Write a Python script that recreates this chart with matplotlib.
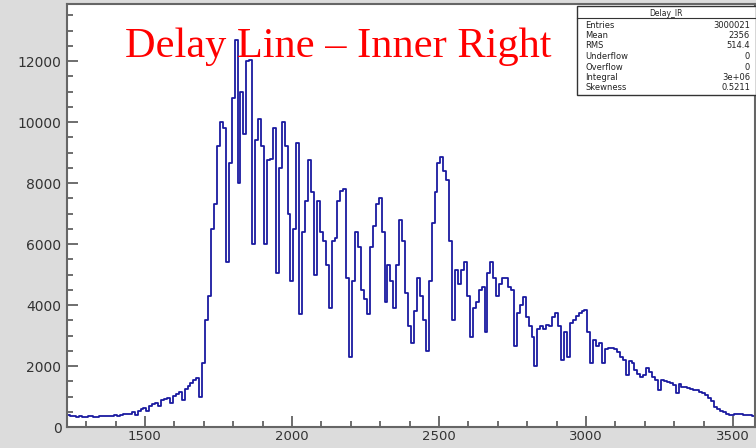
import numpy as np
import matplotlib
matplotlib.use("Agg")
import matplotlib.pyplot as plt
from matplotlib.ticker import MultipleLocator

# histogram contents (bin width 10, first bin centre 1240)
bin_start = 1240
bin_width = 10
counts = [
    380, 370, 360, 340, 350, 330, 340, 360, 350, 330,        # 1240-1330
    340, 350, 360, 350, 370, 360, 380, 370, 400, 420,        # 1340-1430
    440, 430, 480, 400, 540, 580, 620, 520, 680, 740,        # 1440-1530
    800, 690, 870, 920, 960, 790, 1020, 1090, 1150, 880,     # 1540-1630
    1240, 1330, 1450, 1540, 1600, 990, 2100, 3500, 4300, 6500,  # 1640-1730
    7300, 9200, 10000, 9800, 5400, 8650, 10800, 12700, 8000, 11000,  # 1740-1830
    9600, 12000, 12050, 6000, 9400, 10100, 9200, 6000, 8750, 8800,   # 1840-1930
    9800, 5050, 8500, 10000, 9200, 7000, 4800, 6500, 9300, 3700,     # 1940-2030
    6400, 7400, 8750, 7700, 5000, 7400, 6400, 6100, 5300, 3900,      # 2040-2130
    6100, 6200, 7400, 7750, 7800, 4900, 2300, 4800, 6400, 5900,      # 2140-2230
    4500, 4200, 3700, 5900, 6600, 7300, 7500, 6400, 4100, 5300,      # 2240-2330
    4800, 3900, 5300, 6800, 6100, 4400, 3300, 2750, 3800, 4900,      # 2340-2430
    4300, 3500, 2500, 4800, 6700, 7700, 8650, 8850, 8400, 8100,      # 2440-2530
    6100, 3500, 5150, 4700, 5150, 5400, 4300, 2950, 3900, 4100,      # 2540-2630
    4500, 4600, 3100, 5050, 5400, 4900, 4300, 4700, 4900, 4900,      # 2640-2730
    4600, 4500, 2650, 3750, 4000, 4250, 3600, 3300, 2950, 2000,      # 2740-2830
    3200, 3300, 3200, 3350, 3300, 3600, 3750, 3300, 2200, 3100,      # 2840-2930
    2300, 3400, 3500, 3650, 3750, 3800, 3850, 3100, 2100, 2850,      # 2940-3030
    2650, 2750, 2100, 2550, 2600, 2600, 2550, 2450, 2300, 2200,      # 3040-3130
    1700, 2150, 2100, 1870, 1750, 1640, 1700, 1950, 1800, 1650,      # 3140-3230
    1550, 1200, 1550, 1500, 1480, 1450, 1380, 1100, 1400, 1310,      # 3240-3330
    1300, 1280, 1250, 1220, 1200, 1150, 1100, 1050, 950, 850,        # 3340-3430
    650, 580, 540, 480, 440, 400, 400, 410, 420, 410,                # 3440-3530
    400, 390, 380, 370, 360, 370,                                    # 3540-3590
]

stat_names = ["Entries", "Mean", "RMS", "Underflow", "Overflow", "Integral", "Skewness"]
stat_values = ["3000021", "2356", "514.4", "0", "0", "3e+06", "0.5211"]
hist_name = "Delay_IR"
title = "Delay Line \u2013 Inner Right"

x_lim = (1235, 3575)
y_lim = (0, 13870)

x = bin_start + bin_width * np.arange(len(counts))

fig = plt.figure(figsize=(7.56, 4.48), dpi=100, facecolor="#dcdcdc")
ax = fig.add_axes([67 / 756, 1 - 427 / 448, (755 - 67) / 756, (427 - 4) / 448])
ax.set_facecolor("white")

ax.plot(x, counts, drawstyle="steps-mid", color="#1a1aa0", lw=1.3)

ax.set_xlim(*x_lim)
ax.set_ylim(*y_lim)
ax.xaxis.set_major_locator(MultipleLocator(500))
ax.xaxis.set_minor_locator(MultipleLocator(100))
ax.yaxis.set_major_locator(MultipleLocator(2000))
ax.yaxis.set_minor_locator(MultipleLocator(500))
ax.tick_params(which="both", direction="in", colors="#555555", labelcolor="#333333",
               width=1.2)
ax.tick_params(which="major", length=8)
ax.tick_params(which="minor", length=4)
ax.tick_params(axis="x", labelsize=9.5, pad=2)
ax.tick_params(axis="y", labelsize=10, pad=4)
for s in ax.spines.values():
    s.set_color("#666666")
    s.set_linewidth(1.5)

# red title written over the frame
fig.text(125 / 756, 1 - 57 / 448, title, color="red", fontsize=30.5,
         family="Liberation Serif", ha="left", va="baseline")

# stats box in the top right corner
bx0, by0, bx1, by1 = 577 / 756, 1 - 95 / 448, 1.0, 1 - 6 / 448
box = plt.Rectangle((bx0, by0), bx1 - bx0, by1 - by0, transform=fig.transFigure,
                    facecolor="white", edgecolor="#333333", lw=1.0, zorder=5)
fig.patches.append(box)
fig.text((bx0 + bx1) / 2, 1 - 13 / 448, hist_name, fontsize=5.5, ha="center",
         va="center", color="#222222", zorder=6)
fig.add_artist(plt.Line2D([bx0, bx1], [1 - 18 / 448] * 2, transform=fig.transFigure,
                          color="#333333", lw=0.8, zorder=6))
for i, (n, v) in enumerate(zip(stat_names, stat_values)):
    yy = 1 - (25 + i * 10.5) / 448
    fig.text(bx0 + 8 / 756, yy, n, fontsize=6, ha="left", va="center",
             color="#222222", zorder=6)
    fig.text(bx1 - 6 / 756, yy, v, fontsize=6, ha="right", va="center",
             color="#222222", zorder=6)

fig.savefig("out.png", dpi=100, facecolor=fig.get_facecolor())
